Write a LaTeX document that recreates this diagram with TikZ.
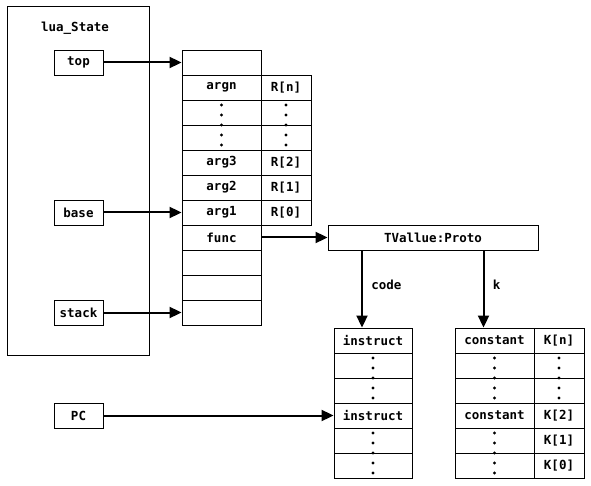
\documentclass[tikz,border=0pt]{standalone}
\usepackage{fontspec}
\setmonofont{DejaVu Sans Mono}
\usetikzlibrary{arrows.meta}
\usetikzlibrary{positioning}

\newcommand{\stackdots}[2]{%
  \foreach \k in {-2,...,2} \fill (#1,#2+10*\k) circle (1.6pt);}

\begin{document}
\begin{tikzpicture}[x=1pt, y=-1pt, line width=0.9pt,
  font=\ttfamily\bfseries\fontsize{12.5}{14}\selectfont,
  cell/.style={draw, minimum height=25pt, inner sep=0pt},
  slot/.style={cell, minimum width=79pt},
  regslot/.style={cell, minimum width=50pt},
  field/.style={cell, minimum width=49pt},
  ptr/.style={line width=2pt, -{Triangle[length=12pt,width=11pt]}}]
\useasboundingbox (0,0) rectangle (591,486);

% lua_State
\node[draw, minimum width=142pt, minimum height=349pt] (L) at (78,180.5) {};
\node (Lname) at (75,28) {lua\_State};
\node[field] (top) at (78.5,62.5) {top};
\node[field] (base) at (78.5,212.5) {base};
\node[field] (stack) at (78.5,312.5) {stack};
\node[field] (pc) at (78.5,415.5) {PC};

% stack slots
\foreach \t [count=\i from 0] in {{},argn,{},{},arg3,arg2,arg1,func,{},{},{}}
  \node[slot] (s\i) at (221.5,62.5+25*\i) {\t};
\foreach \t [count=\i from 1] in {R[n],{},{},R[2],R[1],R[0]}
  \node[regslot] (r\i) at (286,62.5+25*\i) {\t};
\stackdots{221.5}{125}
\stackdots{286}{125}

% Proto
\node[draw, minimum width=210pt, minimum height=25pt] (proto) at (433,237.5) {TVallue:Proto};

% code and constants
\foreach \t [count=\i from 0] in {instruct,{},{},instruct,{},{}}
  \node[cell, minimum width=78pt] (i\i) at (373,340.5+25*\i) {\t};
\foreach \t [count=\i from 0] in {constant,{},{},constant,{},{}}
  \node[slot] (c\i) at (494.5,340.5+25*\i) {\t};
\foreach \t [count=\i from 0] in {K[n],{},{},K[2],K[1],K[0]}
  \node[regslot] (k\i) at (559,340.5+25*\i) {\t};
\stackdots{373}{378}
\stackdots{373}{453}
\stackdots{494.5}{378}
\stackdots{494.5}{453}
\stackdots{559}{378}

% pointers
\draw[ptr] (top) -- (s0);
\draw[ptr] (base) -- (s6);
\draw[ptr] (stack) -- (s10);
\draw[ptr] (s7) -- (proto);
\draw[ptr] (pc) -- (i3);
\coordinate (codein) at ([xshift=-11pt]i0.north);
\coordinate (kin) at ([xshift=-11pt]c0.north);
\draw[ptr] (proto.south -| codein) -- (codein) node[pos=0.45, right=5pt] {code};
\draw[ptr] (proto.south -| kin) -- (kin) node[pos=0.45, right=5pt] {k};
\end{tikzpicture}
\end{document}
